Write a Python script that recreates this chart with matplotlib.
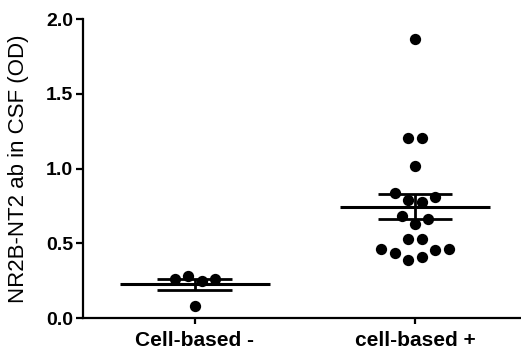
import numpy as np
import matplotlib
matplotlib.use("Agg")
import matplotlib.pyplot as plt

# values (OD), listed in left-to-right order inside each row
GROUPS = ["Cell-based -", "cell-based +"]
neg_values = [0.26, 0.28, 0.25, 0.26, 0.08]
pos_values = [1.864, 1.206, 1.206, 1.017,
              0.838, 0.79, 0.776, 0.811,
              0.682, 0.629, 0.66,
              0.528, 0.528,
              0.459, 0.437, 0.388, 0.41, 0.455, 0.463]
YTICKS = [0.0, 0.5, 1.0, 1.5, 2.0]
YLABEL = "NR2B-NT2 ab in CSF (OD)"

plt.rcParams["font.family"] = ["Liberation Sans", "DejaVu Sans"]


def scatter_offsets(vals, step=0.061, tol=0.08):
    """GraphPad-style scatter: group close values into rows, spread rows symmetrically."""
    vals = np.asarray(vals)
    order = np.argsort(vals, kind="stable")
    offs = np.zeros(len(vals))
    rows, cur = [], [order[0]]
    for i in order[1:]:
        if vals[i] - vals[cur[0]] <= tol:
            cur.append(i)
        else:
            rows.append(cur); cur = [i]
    rows.append(cur)
    for r in rows:
        r = sorted(r)
        n = len(r)
        for k, i in enumerate(r):
            offs[i] = (k - (n - 1) / 2) * step
    return offs


fig = plt.figure(figsize=(5.21, 3.53), dpi=100)
ax = fig.add_axes([0.159, 0.099, 0.839, 0.847])

for gx, vals in enumerate([neg_values, pos_values]):
    v = np.asarray(vals)
    ax.scatter(gx + scatter_offsets(v), v, s=66, color="black", zorder=3, linewidths=0)
    m = v.mean()
    sem = v.std(ddof=1) / np.sqrt(len(v))
    ax.hlines(m, gx - 0.34, gx + 0.34, color="black", lw=2.2, zorder=4)
    ax.hlines([m - sem, m + sem], gx - 0.17, gx + 0.17, color="black", lw=2.0, zorder=4)
    ax.vlines(gx, m - sem, m + sem, color="black", lw=2.0, zorder=4)

ax.set_xlim(-0.509, 1.477)
ax.set_ylim(0, 2.0)
ax.set_yticks(YTICKS)
ax.set_yticklabels([f"{t:.1f}" for t in YTICKS], fontweight="bold", fontsize=14)
ax.set_xticks([0, 1])
ax.set_xticklabels(GROUPS, fontweight="bold", fontsize=15)
ax.set_ylabel(YLABEL, fontsize=16, labelpad=12)

for side in ["top", "right"]:
    ax.spines[side].set_visible(False)
for side in ["left", "bottom"]:
    ax.spines[side].set_linewidth(1.6)
ax.tick_params(axis="y", length=5, width=1.6, pad=2)
ax.tick_params(axis="x", length=4, width=1.6, pad=5)

fig.savefig("out.png", dpi=100)
